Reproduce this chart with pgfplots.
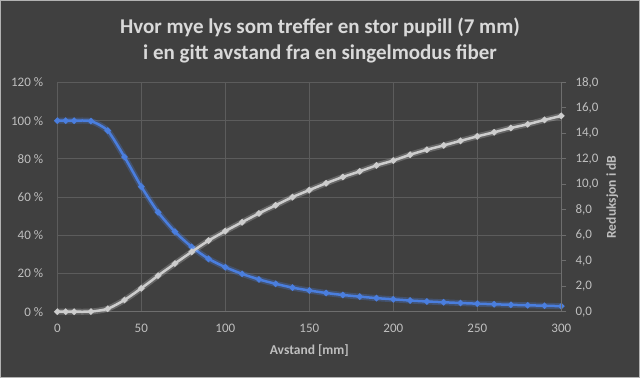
\documentclass[border=0pt]{standalone}
\usepackage{pgfplots}
\pgfplotsset{compat=1.18}
\usepackage{fontspec}
\setmainfont{Carlito}
\definecolor{bg}{RGB}{64,64,64}
\definecolor{gridc}{RGB}{92,92,92}
\definecolor{axc}{RGB}{110,110,110}
\definecolor{txt}{RGB}{191,191,191}
\definecolor{ttl}{RGB}{217,217,217}
\definecolor{blu}{RGB}{74,126,222}
\definecolor{bmark}{RGB}{200,210,230}
\definecolor{wln}{RGB}{205,205,205}
\definecolor{wmark}{RGB}{228,228,228}
\pgfplotstableread{
x y
0 100
5 100
10 100
20 99.8
30 94.8
40 81.0
50 65.5
60 52.1
70 41.9
80 33.9
90 27.7
100 23.3
110 19.8
120 16.9
130 14.6
140 12.6
150 11.1
160 9.8
170 8.75
180 7.9
190 7.1
200 6.5
210 5.85
220 5.35
230 4.95
240 4.55
250 4.2
260 3.9
270 3.6
280 3.37
290 3.12
300 2.9
}\bluedata
\pgfplotstableread{
x y
0 0
5 0
10 0
20 0.01
30 0.23
40 0.92
50 1.84
60 2.83
70 3.78
80 4.70
90 5.58
100 6.33
110 7.03
120 7.72
130 8.36
140 9.0
150 9.55
160 10.09
170 10.58
180 11.02
190 11.49
200 11.87
210 12.33
220 12.72
230 13.06
240 13.42
250 13.77
260 14.09
270 14.43
280 14.72
290 15.06
300 15.38
}\whitedata
\begin{document}
\begin{tikzpicture}[x=1bp,y=1bp]
\fill[bg] (0,0) rectangle (640,378);
\draw[gray!60, line width=1bp] (0.5,0.5) rectangle (639.5,377.5);
\node[text=ttl, font=\fontsize{21bp}{26bp}\selectfont\bfseries, align=center] at (320,338) {Hvor mye lys som treffer en stor pupill (7 mm)\\i en gitt avstand fra en singelmodus fiber};
\begin{axis}[
  at={(57.3bp,66.3bp)}, anchor=south west, scale only axis,
  width=504bp, height=229.2bp,
  xmin=0, xmax=300, ymin=0, ymax=120,
  axis line style={draw=none},
  xtick={0,50,...,300},
  xticklabels={0,50,100,150,200,250,300},
  ytick={0,20,...,120},
  yticklabels={0 \%,20 \%,40 \%,60 \%,80 \%,100 \%,120 \%},
  major tick length=0pt,
  grid=major,
  major grid style={gridc, line width=1bp},
  ticklabel style={text=txt, font=\fontsize{13bp}{15bp}\selectfont},
  yticklabel style={anchor=east, inner sep=0pt, xshift=-14bp},
  xticklabel style={anchor=center, inner sep=0pt, yshift=-17bp},
  xlabel={Avstand [mm]},
  xlabel style={at={(axis description cs:0.5,0)}, anchor=center, yshift=-39bp, text=txt, font=\fontsize{13.5bp}{15bp}\selectfont\bfseries},
  clip=false,
]
\draw[axc, line width=1bp] (axis cs:0,0) -- (axis cs:300,0);
\addplot[blu, opacity=0.3, line width=6bp, smooth, tension=0.4, no markers] table {\bluedata};
\addplot[blu, line width=2.5bp, smooth, tension=0.4, mark=*, mark size=1.7bp, mark options={fill=bmark, draw=none}] table {\bluedata};
\end{axis}
\begin{axis}[
  at={(57.3bp,66.3bp)}, anchor=south west, scale only axis,
  width=504bp, height=229.2bp,
  xmin=0, xmax=300, ymin=0, ymax=18,
  axis x line=none,
  axis y line*=right,
  axis line style={axc, line width=1bp},
  ytick={0,2,...,18},
  yticklabels={{0,0},{2,0},{4,0},{6,0},{8,0},{10,0},{12,0},{14,0},{16,0},{18,0}},
  tick align=outside,
  major tick length=5bp,
  tick style={axc, line width=1bp},
  ticklabel style={text=txt, font=\fontsize{13bp}{15bp}\selectfont},
  yticklabel style={anchor=west, inner sep=0pt, xshift=9bp},
  ylabel={Reduksjon i dB},
  ylabel style={at={(axis description cs:1,0.5)}, anchor=center, yshift=-51bp, text=txt, font=\fontsize{13.5bp}{15bp}\selectfont\bfseries},
  clip=false,
]
\addplot[white, opacity=0.2, line width=6bp, smooth, tension=0.4, no markers] table {\whitedata};
\addplot[wln, line width=2.5bp, smooth, tension=0.4, mark=*, mark size=1.7bp, mark options={fill=wmark, draw=none}] table {\whitedata};
\end{axis}
\end{tikzpicture}
\end{document}
